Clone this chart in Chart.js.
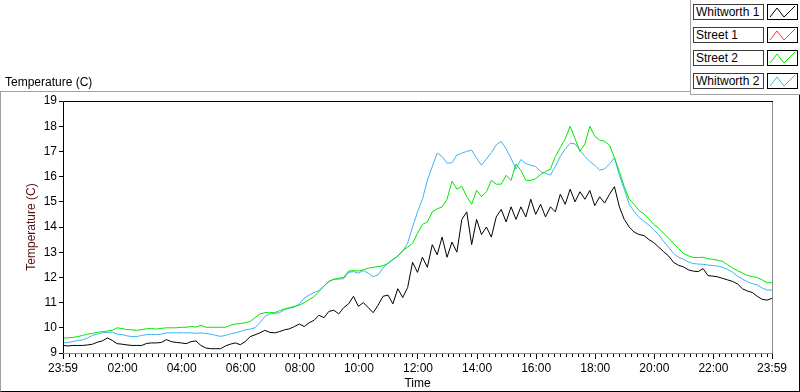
<!DOCTYPE html>
<html>
<head>
<meta charset="utf-8">
<script src="https://cdn.jsdelivr.net/npm/chart.js"></script>
<style>
  body { margin: 0; width: 800px; height: 392px; background: #fff; position: relative; overflow: hidden;
         font-family: "Liberation Sans", Arial, sans-serif; font-size: 12px; color: #000; }
  #frame { position: absolute; left: 0; top: 91px; width: 798px; height: 299px;
           border-top: 1px solid #a0a0a0; border-left: 1px solid #a0a0a0;
           border-right: 1px solid #000; border-bottom: 1px solid #000; }
  #chart { position: absolute; left: 0; top: 0; }
  #header { position: absolute; left: 5px; top: 74px; line-height: 16px; }
  #legend { position: absolute; left: 690px; top: 0; width: 110px; height: 95px; background: #fff;
            border-left: 1px solid #a0a0a0; border-bottom: 1px solid #a0a0a0; box-sizing: border-box; }
  .row { position: absolute; left: 2px; height: 15px; }
  .name { position: absolute; left: 0; top: 0; width: 71px; height: 16px; border: 1px solid #3c3c3c;
          box-sizing: border-box; line-height: 14px; padding-left: 2px; white-space: nowrap; overflow: hidden; }
  .swatch { position: absolute; left: 74px; top: 0; width: 31px; height: 16px; border: 1px solid #000;
            box-sizing: border-box; }
</style>
</head>
<body>
<div id="frame"></div>
<canvas id="chart" width="800" height="392"></canvas>
<div id="header">Temperature (C)</div>
<div id="legend"></div>
<script>
// samples every 10 minutes, minute 0 = 23:59 the evening before
const sampleStep = 10;
const minutes = Array.from({ length: 145 }, (_, i) => i * sampleStep);

const whitworth1 = [
  9.3, 9.28, 9.3, 9.3, 9.3, 9.32, 9.35, 9.43, 9.48, 9.6, 9.5, 9.37,
  9.35, 9.32, 9.3, 9.3, 9.3, 9.38, 9.4, 9.4, 9.42, 9.53, 9.45, 9.42,
  9.4, 9.37, 9.45, 9.48, 9.3, 9.2, 9.17, 9.17, 9.17, 9.28, 9.35, 9.4,
  9.33, 9.45, 9.65, 9.72, 9.8, 9.9, 9.82, 9.8, 9.85, 9.92, 9.96, 10.05,
  10.15, 10.05, 10.2, 10.3, 10.5, 10.4, 10.65, 10.7, 10.55, 10.8, 10.95, 11.25,
  10.85, 11.0, 10.8, 10.6, 10.9, 11.25, 11.3, 10.95, 11.55, 11.2, 11.6, 12.6,
  12.2, 12.8, 12.4, 13.3, 12.9, 13.6, 12.8, 13.4, 13.0, 14.3, 14.6, 13.3,
  14.3, 13.7, 14.0, 13.6, 14.4, 14.7, 14.2, 14.8, 14.3, 14.8, 14.4, 15.1,
  14.5, 14.9, 14.4, 14.8, 14.6, 15.3, 14.9, 15.5, 15.0, 15.4, 15.1, 15.45,
  14.85, 15.2, 14.95, 15.3, 15.6, 14.8, 14.3, 14.0, 13.8, 13.7, 13.66, 13.5,
  13.38, 13.2, 13.02, 12.85, 12.6, 12.48, 12.42, 12.3, 12.25, 12.23, 12.35, 12.07,
  12.05, 12.02, 11.96, 11.9, 11.84, 11.74, 11.55, 11.46, 11.4, 11.25, 11.13, 11.1,
  11.17
];

const street1 = [];

const street2 = [
  9.6, 9.6, 9.62, 9.65, 9.7, 9.75, 9.78, 9.82, 9.85, 9.87, 9.9, 10.0,
  9.97, 9.93, 9.92, 9.9, 9.93, 9.96, 9.97, 9.95, 9.98, 10.0, 10.0, 10.0,
  10.02, 10.02, 10.05, 10.03, 10.1, 10.02, 10.02, 10.02, 10.02, 10.02, 10.1, 10.15,
  10.17, 10.2, 10.25, 10.4, 10.55, 10.6, 10.6, 10.6, 10.68, 10.75, 10.8, 10.85,
  10.9, 11.0, 11.12, 11.24, 11.44, 11.65, 11.85, 11.92, 11.97, 12.0, 12.25, 12.27,
  12.25, 12.3, 12.37, 12.4, 12.43, 12.46, 12.56, 12.72, 12.85, 13.07, 13.2, 13.35,
  13.75, 14.1, 14.2, 14.6, 14.72, 14.8, 15.1, 15.82, 15.5, 15.62, 15.2, 14.9,
  15.45, 15.2, 15.4, 15.85, 15.7, 15.7, 16.05, 15.85, 16.5, 16.25, 15.85, 15.85,
  15.92, 16.08, 16.2, 16.3, 16.8, 17.15, 17.5, 18.0, 17.5, 17.0, 17.3, 18.0,
  17.6, 17.45, 17.4, 17.25, 16.75, 16.2, 15.6, 15.1, 14.9, 14.65, 14.52, 14.32,
  14.1, 13.95, 13.75, 13.55, 13.35, 13.15, 12.95, 12.86, 12.79, 12.79, 12.8, 12.74,
  12.72, 12.68, 12.63, 12.5, 12.37, 12.27, 12.17, 12.08, 12.03, 12.0, 11.9, 11.79,
  11.79
];

const whitworth2 = [
  9.4, 9.42, 9.45, 9.5, 9.52, 9.6, 9.7, 9.75, 9.8, 9.82, 9.83, 9.75,
  9.73, 9.68, 9.65, 9.65, 9.7, 9.73, 9.73, 9.73, 9.75, 9.8, 9.8, 9.8,
  9.8, 9.8, 9.8, 9.78, 9.8, 9.77, 9.75, 9.7, 9.66, 9.7, 9.76, 9.8,
  9.85, 9.92, 9.95, 10.0, 10.2, 10.45, 10.55, 10.57, 10.6, 10.72, 10.78, 10.82,
  10.95, 11.18, 11.3, 11.4, 11.48, 11.66, 11.83, 11.93, 11.93, 11.95, 12.2, 12.23,
  12.17, 12.27, 12.17, 12.03, 12.1, 12.37, 12.56, 12.7, 12.85, 13.03, 13.36, 14.0,
  14.6, 15.1, 15.85, 16.4, 16.93, 16.8, 16.53, 16.55, 16.86, 16.93, 17.0, 17.05,
  16.73, 16.45, 16.7, 16.95, 17.26, 17.4, 17.1, 16.73, 16.3, 16.68, 16.52, 16.45,
  16.4, 16.2, 16.13, 16.06, 16.4, 16.8, 17.1, 17.32, 17.3, 17.05, 16.8, 16.6,
  16.45, 16.26, 16.3, 16.5, 16.75, 16.05, 15.5, 14.9, 14.62, 14.38, 14.22, 14.08,
  13.88, 13.7, 13.42, 13.2, 12.95, 12.8, 12.72, 12.62, 12.55, 12.53, 12.52, 12.49,
  12.47, 12.45, 12.4, 12.32, 12.2, 12.05, 11.93, 11.83, 11.75, 11.7, 11.58, 11.5,
  11.5
];

// major ticks (minutes from start) and their labels
const tickMinutes = [0, 121, 241, 361, 481, 601, 721, 841, 961, 1081, 1201, 1321, 1440];
const tickLabels = ['23:59', '02:00', '04:00', '06:00', '08:00', '10:00', '12:00',
                    '14:00', '16:00', '18:00', '20:00', '22:00', '23:59'];
// minor ticks every 12 minutes of clock time
const minorTicks = [];
for (let k = 1; k < 120; k++) if (k % 10) minorTicks.push(k * 12 + 1);

const seriesNames = ['Whitworth 1', 'Street 1', 'Street 2', 'Whitworth 2'];
const seriesColors = ['#000000', '#ff3c3c', '#00e600', '#3cb4f0'];
const seriesValues = [whitworth1, street1, street2, whitworth2];

const FONT = '"Liberation Sans", Arial, sans-serif';

const toPoints = vals => vals.map((v, i) => ({ x: minutes[i], y: v }));

const frame = {
  id: 'frame',
  afterDraw(chart) {
    const { ctx, chartArea: { left, top, right, bottom }, scales: { x } } = chart;
    ctx.save();
    ctx.lineWidth = 1;
    ctx.strokeStyle = '#8c8c8c';
    ctx.beginPath();
    ctx.moveTo(right + 0.5, top);
    ctx.lineTo(right + 0.5, bottom + 0.5);
    ctx.lineTo(left, bottom + 0.5);
    ctx.stroke();
    ctx.strokeStyle = '#000';
    ctx.beginPath();
    ctx.moveTo(left + 0.5, bottom);
    ctx.lineTo(left + 0.5, top + 0.5);
    ctx.lineTo(right + 1, top + 0.5);
    ctx.stroke();
    ctx.beginPath();
    minorTicks.forEach(m => {
      const px = Math.round(x.getPixelForValue(m)) + 0.5;
      ctx.moveTo(px, bottom + 1);
      ctx.lineTo(px, bottom + 4);
    });
    ctx.stroke();
    ctx.restore();
  }
};

new Chart(document.getElementById('chart'), {
  type: 'line',
  data: {
    datasets: seriesNames.map((name, i) => ({
      label: name,
      data: toPoints(seriesValues[i]),
      borderColor: seriesColors[i],
      borderWidth: 1,
      pointRadius: 0,
      fill: false,
      tension: 0
    }))
  },
  options: {
    responsive: false,
    animation: false,
    devicePixelRatio: 1,
    layout: { padding: { left: 0, top: 101, right: 28, bottom: 0 } },
    plugins: { legend: { display: false }, tooltip: { enabled: false } },
    scales: {
      x: {
        type: 'linear',
        min: 0,
        max: 1440,
        afterBuildTicks: s => { s.ticks = tickMinutes.map(v => ({ value: v })); },
        afterFit: s => { s.height = 39; },
        ticks: {
          autoSkip: false,
          maxRotation: 0,
          padding: 2,
          color: '#000',
          font: { family: FONT, size: 12 },
          callback: (v, i) => tickLabels[i]
        },
        grid: { drawOnChartArea: false, drawTicks: true, tickLength: 6, tickColor: '#000' },
        border: { display: false },
        title: { display: true, text: 'Time', color: '#000', font: { family: FONT, size: 12 }, padding: { top: 0, bottom: 1 } }
      },
      y: {
        min: 9,
        max: 19,
        afterFit: s => { s.width = 63; },
        ticks: { stepSize: 1, padding: 2, color: '#000', font: { family: FONT, size: 12 } },
        grid: { drawOnChartArea: false, drawTicks: true, tickLength: 4, tickColor: '#000' },
        border: { display: false },
        title: { display: true, text: 'Temperature (C)', color: '#5a1010', font: { family: FONT, size: 12 }, padding: { top: 24, bottom: 0 } }
      }
    }
  },
  plugins: [frame]
});

// legend boxes, LabVIEW style
const legend = document.getElementById('legend');
seriesNames.forEach((name, i) => {
  const row = document.createElement('div');
  row.className = 'row';
  row.style.top = (4 + i * 23) + 'px';
  row.innerHTML = '<div class="name">' + name + '</div>' +
    '<div class="swatch"><svg width="29" height="14"><polyline points="2,12 9,3 16,12 27,1" fill="none" stroke="' +
    seriesColors[i] + '" stroke-width="1"/></svg></div>';
  legend.appendChild(row);
});
</script>
</body>
</html>
